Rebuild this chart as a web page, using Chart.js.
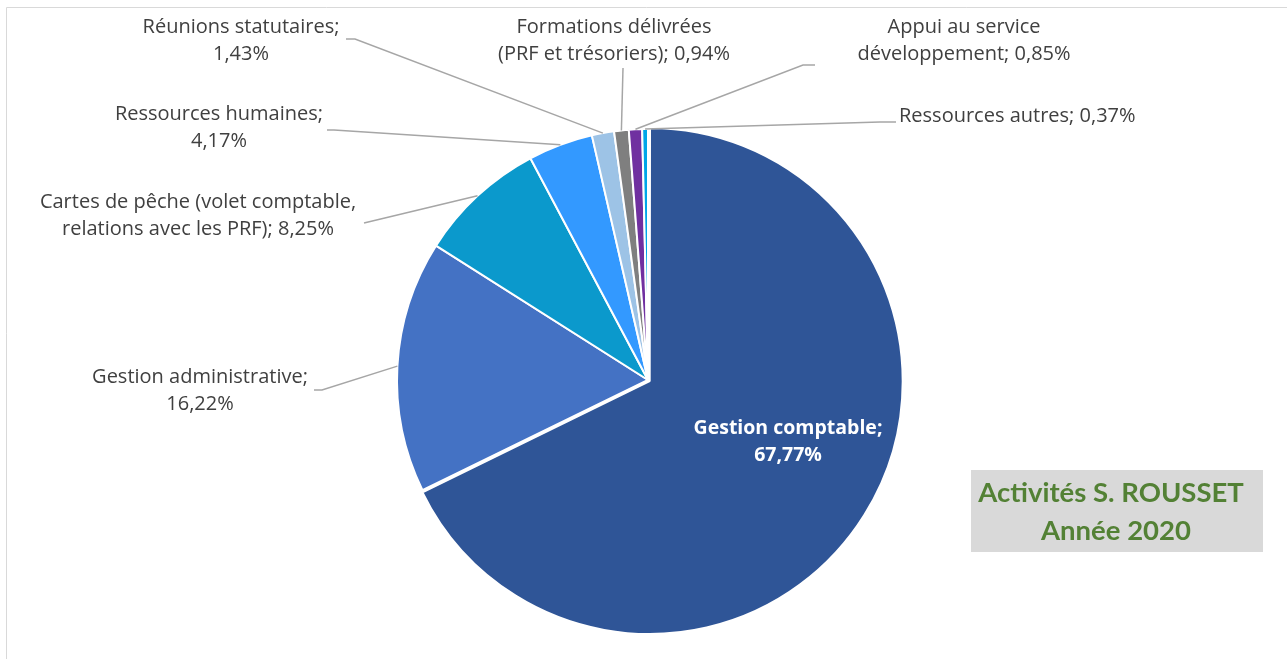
<!DOCTYPE html>
<html lang="fr">
<head>
<meta charset="utf-8">
<title>Activités S. ROUSSET - Année 2020</title>
<script src="https://cdn.jsdelivr.net/npm/chart.js@4.4.1/dist/chart.umd.min.js"></script>
<style>
  html, body { margin: 0; padding: 0; background: #ffffff; }
  #wrap { position: relative; width: 1287px; height: 659px; overflow: hidden; }
</style>
</head>
<body>
<div id="wrap">
  <canvas id="activityPie" width="1287" height="659"></canvas>
</div>
<script>
// Répartition des activités (en % du temps)
const categories = [
    'Gestion comptable',
    'Gestion administrative',
    'Cartes de pêche (volet comptable,\nrelations avec les PRF)',
    'Ressources humaines',
    'Réunions statutaires',
    'Formations délivrées\n(PRF et trésoriers)',
    'Appui au service\ndéveloppement',
    'Ressources autres'
];
const shares = [67.77, 16.22, 8.25, 4.17, 1.43, 0.94, 0.85, 0.37];
const sliceColors = ['#2F5597', '#4472C4', '#0B99CC', '#3399FF', '#9DC3E6', '#7F7F7F', '#7030A0', '#00A6E8'];
const titleLines = ['Activités S. ROUSSET', 'Année 2020'];

const fmtPct = v => v.toFixed(2).replace('.', ',') + '%';

// where each label sits and where its leader line leaves the text
// valueBreak: put the percentage on its own line
const labelLayout = [
    { inside: true, x: 788, y: 428, valueBreak: true },
    { x: 200, y: 377, valueBreak: true, leader: [[314, 390], [322, 390]] },
    { x: 198, y: 202, valueBreak: false, leader: [[364, 223]] },
    { x: 219, y: 114, valueBreak: true, leader: [[327, 130], [334, 130]] },
    { x: 241, y: 27, valueBreak: true, leader: [[346, 39], [355, 39]] },
    { x: 614, y: 27, valueBreak: false, leader: [[623, 68]] },
    { x: 964, y: 27, valueBreak: false, leader: [[815, 65], [803, 65]] },
    { x: 899, y: 116, valueBreak: false, align: 'left', leader: [[896, 122], [880, 122]] }
];

const labelFont = '20px "Open Sans", Lato, sans-serif';
const innerFont = 'bold 19.5px "Open Sans", Lato, sans-serif';
const lineGap = 27.5;

const pieLabels = {
    id: 'pieLabels',
    afterDatasetsDraw(chart) {
        const ctx = chart.ctx;
        const arcs = chart.getDatasetMeta(0).data;
        ctx.save();

        // leader lines, from the text to the middle of each slice's rim
        ctx.strokeStyle = '#A6A6A6';
        ctx.lineWidth = 1.5;
        labelLayout.forEach((lay, i) => {
            if (!lay.leader) return;
            const arc = arcs[i];
            const mid = (arc.startAngle + arc.endAngle) / 2;
            const ex = arc.x + Math.cos(mid) * arc.outerRadius;
            const ey = arc.y + Math.sin(mid) * arc.outerRadius;
            ctx.beginPath();
            ctx.moveTo(lay.leader[0][0], lay.leader[0][1]);
            lay.leader.slice(1).forEach(p => ctx.lineTo(p[0], p[1]));
            ctx.lineTo(ex, ey);
            ctx.stroke();
        });

        // label text
        ctx.textBaseline = 'middle';
        labelLayout.forEach((lay, i) => {
            const text = categories[i] + ';' + (lay.valueBreak ? '\n' : ' ') + fmtPct(shares[i]);
            const lines = text.split('\n');
            ctx.font = lay.inside ? innerFont : labelFont;
            ctx.fillStyle = lay.inside ? '#FFFFFF' : '#404040';
            ctx.textAlign = lay.align || 'center';
            lines.forEach((ln, k) => ctx.fillText(ln, lay.x, lay.y + k * lineGap));
        });

        // title box
        ctx.fillStyle = '#D9D9D9';
        ctx.fillRect(971, 470, 292, 82);
        ctx.fillStyle = '#538135';
        ctx.font = 'bold 27.5px Lato, "Open Sans", sans-serif';
        ctx.textAlign = 'center';
        ctx.fillText(titleLines[0], 1111, 493);
        ctx.fillText(titleLines[1], 1116, 531);

        // chart frame
        ctx.strokeStyle = '#D9D9D9';
        ctx.lineWidth = 1;
        ctx.beginPath();
        ctx.moveTo(6.5, 659);
        ctx.lineTo(6.5, 7.5);
        ctx.lineTo(1287, 7.5);
        ctx.stroke();
        ctx.restore();
    }
};

new Chart(document.getElementById('activityPie'), {
    type: 'pie',
    data: {
        labels: categories,
        datasets: [{
            data: shares,
            backgroundColor: sliceColors,
            borderColor: '#FFFFFF',
            borderWidth: 2,
            offset: [8, 0, 0, 0, 0, 0, 0, 0],
            hoverOffset: 0,
            radius: 251,
            clip: false
        }]
    },
    options: {
        responsive: false,
        animation: false,
        layout: { padding: { left: 9, right: 0, top: 101, bottom: 0 } },
        plugins: {
            legend: { display: false },
            tooltip: { enabled: false }
        }
    },
    plugins: [pieLabels]
});
</script>
</body>
</html>
